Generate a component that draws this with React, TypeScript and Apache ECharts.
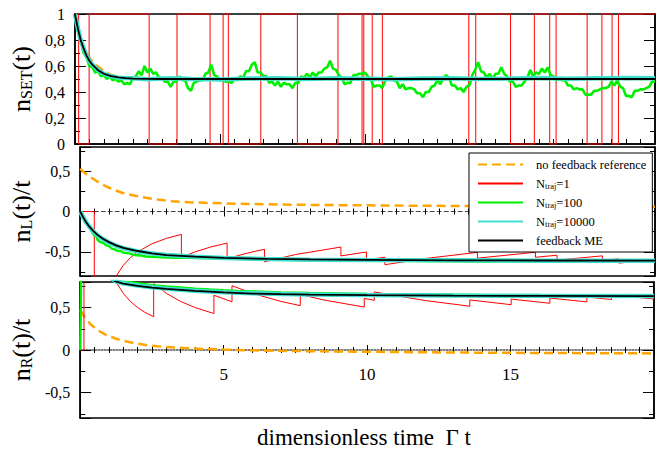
import React, { useEffect, useRef } from 'react';
import * as echarts from 'echarts';

const SERIF = 'Liberation Serif';

// ---------- axis ----------
const T_MIN = 0;
const T_MAX = 20;
const X_TICK_LABELS = ['5', '10', '15'];
const X_TITLE = 'dimensionless time  Γ t';

// ---------- panel 1: n_SET(t) ----------
// single trajectory: switching times
const SET_DROP_T = [0.13, 2.56, 4.66, 5.29, 7.67, 9.9, 10.25, 13.58, 15.02, 16.37, 17.66, 18.52];
const SET_RISE_T = [0.49, 3.52, 5.11, 6.41, 9.07, 9.96, 10.6, 13.82, 15.84, 16.59, 18.17, 18.74];

const SET_ME = [[0, 1], [0.1, 0.89], [0.2, 0.8], [0.3, 0.735], [0.4, 0.68], [0.5, 0.64], [0.6, 0.61], [0.8, 0.568], [1.0, 0.54], [1.25, 0.522], [1.5, 0.512], [1.75, 0.506], [2.0, 0.503], [2.5, 0.501], [3, 0.5], [20, 0.5]];
const SET_NOFB = [[0, 1], [0.1, 0.9], [0.2, 0.815], [0.3, 0.752], [0.4, 0.702], [0.5, 0.665], [0.6, 0.635], [0.75, 0.605], [1.0, 0.56], [1.25, 0.532], [1.5, 0.515], [2, 0.505], [2.5, 0.501], [3, 0.5], [20, 0.5]];
const SET_CYAN = [[0, 1], [0.1, 0.89], [0.2, 0.8], [0.3, 0.735], [0.4, 0.68], [0.5, 0.64], [0.6, 0.61], [0.8, 0.568], [1.0, 0.54], [1.25, 0.522], [1.5, 0.51], [2, 0.505], [2.5, 0.498], [3, 0.503], [3.5, 0.505], [4, 0.5], [5, 0.497], [6, 0.503], [7, 0.505], [8, 0.5], [9, 0.506], [10, 0.502], [11, 0.498], [12, 0.503], [13, 0.505], [14, 0.5], [15, 0.503], [16, 0.507], [17, 0.502], [18, 0.505], [19, 0.508], [20, 0.506]];
const SET_GREEN_DT = 0.1;
const SET_GREEN = [
  1.0, 0.87, 0.8, 0.7, 0.67, 0.6, 0.59, 0.55, 0.56, 0.52,
  0.53, 0.5, 0.52, 0.49, 0.5, 0.48, 0.49, 0.46, 0.47, 0.46,
  0.51, 0.52, 0.56, 0.53, 0.6, 0.55, 0.58, 0.54, 0.55, 0.51,
  0.51, 0.48, 0.48, 0.44, 0.48, 0.48, 0.52, 0.49, 0.49, 0.43,
  0.41, 0.47, 0.48, 0.49, 0.49, 0.54, 0.55, 0.61, 0.53, 0.52,
  0.49, 0.49, 0.48, 0.48, 0.47, 0.5, 0.49, 0.52, 0.51, 0.56,
  0.56, 0.61, 0.63, 0.55, 0.55, 0.52, 0.52, 0.47, 0.48, 0.45,
  0.48, 0.44, 0.47, 0.46, 0.46, 0.43, 0.47, 0.47, 0.52, 0.51,
  0.54, 0.51, 0.55, 0.52, 0.55, 0.55, 0.58, 0.59, 0.64, 0.58,
  0.57, 0.53, 0.51, 0.46, 0.47, 0.47, 0.53, 0.53, 0.54, 0.54,
  0.55, 0.52, 0.5, 0.44, 0.45, 0.45, 0.43, 0.49, 0.51, 0.52,
  0.49, 0.48, 0.43, 0.46, 0.42, 0.43, 0.43, 0.42, 0.39, 0.39,
  0.36, 0.4, 0.4, 0.44, 0.45, 0.49, 0.46, 0.51, 0.53, 0.51,
  0.45, 0.45, 0.42, 0.43, 0.4, 0.44, 0.45, 0.53, 0.57, 0.63,
  0.56, 0.55, 0.51, 0.54, 0.5, 0.54, 0.54, 0.59, 0.54, 0.52,
  0.48, 0.48, 0.44, 0.45, 0.45, 0.48, 0.51, 0.57, 0.52, 0.55,
  0.54, 0.58, 0.55, 0.59, 0.53, 0.52, 0.49, 0.5, 0.49, 0.49,
  0.45, 0.45, 0.42, 0.43, 0.42, 0.42, 0.38, 0.38, 0.38, 0.41,
  0.41, 0.42, 0.43, 0.43, 0.44, 0.48, 0.45, 0.49, 0.44, 0.43,
  0.37, 0.37, 0.36, 0.41, 0.41, 0.42, 0.42, 0.43, 0.44, 0.48,
  0.48,
];

// ---------- panel 2: n_L(t)/t ----------
const L_NOFB = [[0, 0.53], [0.15, 0.48], [0.34, 0.43], [0.6, 0.37], [0.91, 0.31], [1.2, 0.265], [1.48, 0.23], [1.9, 0.195], [2.29, 0.17], [2.7, 0.148], [3.2, 0.128], [3.8, 0.115], [4.35, 0.107], [5, 0.1], [6, 0.092], [7, 0.086], [8.5, 0.08], [10, 0.076], [12, 0.071], [13.6, 0.068], [16, 0.064], [18, 0.062], [20, 0.06]];
const L_RED = [
  [0, 0], [0.49, 0], [0.49, -2.04], [0.75, -1.333], [1.0, -1.0], [1.25, -0.8], [1.5, -0.667], [1.75, -0.571], [2.0, -0.5], [2.5, -0.4], [3.0, -0.333], [3.52, -0.284],
  [3.52, -0.568], [4.0, -0.5], [4.5, -0.444], [5.11, -0.391],
  [5.11, -0.587], [5.7, -0.526], [6.41, -0.468],
  [6.41, -0.624], [7.5, -0.533], [9.07, -0.441],
  [9.07, -0.551], [9.96, -0.502],
  [9.96, -0.602], [10.6, -0.566],
  [10.6, -0.66], [12.0, -0.583], [13.82, -0.507],
  [13.82, -0.579], [15.84, -0.505],
  [15.84, -0.568], [16.59, -0.542],
  [16.59, -0.603], [18.17, -0.55],
  [18.17, -0.605], [18.74, -0.587],
  [18.74, -0.64], [20, -0.6],
];
const L_ME = [[0, 0], [0.1, -0.07], [0.2, -0.13], [0.3, -0.18], [0.45, -0.24], [0.6, -0.29], [0.8, -0.34], [1.0, -0.38], [1.25, -0.42], [1.5, -0.45], [2.0, -0.49], [2.5, -0.52], [3.0, -0.54], [4.0, -0.56], [5.0, -0.575], [6.5, -0.588], [8, -0.595], [10, -0.6], [13, -0.605], [16, -0.608], [20, -0.61]];
const L_CYAN = [[0, 0], [0.1, -0.07], [0.2, -0.13], [0.3, -0.18], [0.45, -0.245], [0.6, -0.295], [0.8, -0.345], [1.0, -0.385], [1.25, -0.425], [1.5, -0.455], [2.0, -0.495], [2.5, -0.522], [3.0, -0.54], [4.0, -0.562], [5.0, -0.577], [6.5, -0.59], [8, -0.597], [10, -0.602], [13, -0.606], [16, -0.61], [20, -0.612]];
const L_GREEN = [[0, 0], [0.05, -0.02], [0.1, -0.06], [0.15, -0.09], [0.2, -0.11], [0.25, -0.16], [0.3, -0.19], [0.35, -0.2], [0.4, -0.25], [0.5, -0.3], [0.55, -0.3], [0.6, -0.35], [0.7, -0.38], [0.8, -0.39], [0.9, -0.42], [1.0, -0.43], [1.1, -0.46], [1.2, -0.47], [1.3, -0.49], [1.4, -0.49], [1.5, -0.51], [1.7, -0.52], [1.9, -0.54], [2.1, -0.545], [2.3, -0.56], [2.5, -0.562], [2.7, -0.565], [3.0, -0.572], [3.3, -0.575], [3.6, -0.57], [4.0, -0.578], [4.5, -0.58], [5, -0.585], [5.5, -0.588], [6, -0.59], [7, -0.594], [8, -0.598], [9, -0.6], [10, -0.603], [11, -0.608], [12, -0.615], [13, -0.618], [14, -0.62], [15, -0.618], [16, -0.614], [17, -0.612], [18, -0.613], [19, -0.61], [20, -0.611]];

// ---------- panel 3: n_R(t)/t ----------
const R_NOFB = [[0, 0.47], [0.15, 0.39], [0.34, 0.31], [0.6, 0.235], [0.91, 0.176], [1.2, 0.138], [1.48, 0.11], [1.9, 0.08], [2.29, 0.059], [2.7, 0.044], [3.2, 0.031], [3.8, 0.02], [4.35, 0.012], [5, 0.005], [6, -0.004], [7, -0.01], [8.5, -0.016], [10, -0.021], [12, -0.027], [14, -0.032], [16, -0.035], [18, -0.038], [20, -0.04]];
const R_RED = [
  [0, 0], [0.13, 0], [0.13, 7.7], [0.5, 2.0], [1.0, 1.0], [1.25, 0.8], [1.5, 0.667], [1.75, 0.571], [2.0, 0.5], [2.25, 0.444], [2.56, 0.391],
  [2.56, 0.781], [3.0, 0.667], [3.5, 0.571], [4.0, 0.5], [4.66, 0.429],
  [4.66, 0.644], [5.29, 0.567],
  [5.29, 0.756], [6.0, 0.667], [7.0, 0.571], [7.67, 0.522],
  [7.67, 0.652], [8.5, 0.588], [9.9, 0.505],
  [9.9, 0.606], [10.25, 0.585],
  [10.25, 0.683], [12.0, 0.583], [13.58, 0.515],
  [13.58, 0.589], [15.02, 0.533],
  [15.02, 0.599], [16.37, 0.55],
  [16.37, 0.611], [17.66, 0.566],
  [17.66, 0.623], [18.52, 0.594],
  [18.52, 0.648], [20, 0.6],
];
const R_ME = [[0.7, 1.0], [1.0, 0.86], [1.2, 0.81], [1.5, 0.78], [2.0, 0.755], [2.5, 0.735], [3.0, 0.72], [3.5, 0.708], [4.0, 0.695], [4.5, 0.686], [5.0, 0.677], [6.0, 0.664], [7.0, 0.657], [8, 0.652], [10, 0.646], [13, 0.64], [16, 0.636], [20, 0.633]];
const R_CYAN = [[0.7, 1.0], [1.0, 0.865], [1.2, 0.815], [1.5, 0.785], [2.0, 0.758], [2.5, 0.738], [3.0, 0.722], [3.5, 0.71], [4.0, 0.698], [4.5, 0.688], [5.0, 0.679], [6.0, 0.667], [7.0, 0.659], [8, 0.654], [10, 0.647], [13, 0.641], [16, 0.637], [20, 0.634]];
const R_GREEN = [[0, 0], [0.02, 0.5], [0.04, 1.2], [0.5, 1.3], [1.0, 0.9], [1.2, 0.84], [1.5, 0.81], [2, 0.785], [2.5, 0.762], [3, 0.748], [3.5, 0.735], [4, 0.722], [4.5, 0.712], [5, 0.703], [5.5, 0.695], [6, 0.689], [7, 0.678], [8, 0.67], [9, 0.665], [10, 0.66], [11, 0.656], [12, 0.653], [13, 0.65], [14, 0.647], [15, 0.645], [16, 0.643], [17, 0.64], [18, 0.639], [19, 0.638], [20, 0.637]];

// ---------- legend ----------
const NAMES = ['nofb', 'n1', 'n100', 'n10000', 'me'];
const LEGEND_TEXT: Record<string, string> = {
  nofb: '{a|no feedback reference}',
  n1: '{a|N}{s|traj}{a|=1}',
  n100: '{a|N}{s|traj}{a|=100}',
  n10000: '{a|N}{s|traj}{a|=10000}',
  me: '{a|feedback ME}',
};

const STYLES: Record<string, any> = {
  nofb: { color: '#ffa500', width: 2.5, type: [9, 5] },
  n1: { color: '#ff0000', width: 1 },
  n100: { color: '#00f000', width: 2.4 },
  n10000: { color: '#40e0d0', width: 4.5 },
  me: { color: '#000000', width: 1.8 },
};

function setStep(): number[][] {
  const ev = [...SET_DROP_T.map((t) => [t, 0]), ...SET_RISE_T.map((t) => [t, 1])].sort((a, b) => a[0] - b[0]);
  let cur = 1;
  const pts: number[][] = [[T_MIN, 1]];
  for (const [t, v] of ev) {
    pts.push([t, cur]);
    pts.push([t, v]);
    cur = v;
  }
  pts.push([T_MAX, cur]);
  return pts;
}

const fmt = (v: number) => String(Math.round(v * 100) / 100).replace('.', ',');

export default function App() {
  const ref = useRef<HTMLDivElement>(null);
  useEffect(() => {
    if (!ref.current) return;
    const chart = echarts.init(ref.current, undefined, { renderer: 'svg' });

    const grids = [
      { left: 73, top: 14, width: 582, height: 130 },
      { left: 73, top: 147, width: 582, height: 129 },
      { left: 73, top: 282, width: 582, height: 136 },
    ].map((g) => ({ ...g, show: true, borderColor: '#000', borderWidth: 1.5, backgroundColor: 'transparent', containLabel: false }));

    const baseX = {
      type: 'value', min: T_MIN, max: T_MAX, interval: 5,
      splitLine: { show: false },
      axisLabel: { show: false },
    };
    const xAxis: any[] = [
      { ...baseX, gridIndex: 0, position: 'bottom',
        axisLine: { onZero: false, lineStyle: { color: '#000', width: 1.5 } },
        axisTick: { inside: true, length: 10, lineStyle: { color: '#000' } },
        minorTick: { show: true, splitNumber: 10, length: 5, lineStyle: { color: '#000' } } },
      { ...baseX, gridIndex: 1, position: 'bottom',
        axisLine: { onZero: true, lineStyle: { color: '#444', width: 1, type: [4, 3] } },
        axisTick: { inside: false, length: 5, lineStyle: { color: '#000' } },
        minorTick: { show: true, splitNumber: 10, length: 3, lineStyle: { color: '#000' } } },
      { ...baseX, gridIndex: 1, position: 'top',
        axisLine: { onZero: true, lineStyle: { color: '#000', opacity: 0 } },
        axisTick: { inside: false, length: 5, lineStyle: { color: '#000' } },
        minorTick: { show: true, splitNumber: 10, length: 3, lineStyle: { color: '#000' } } },
      { ...baseX, gridIndex: 2, position: 'bottom',
        axisLine: { onZero: true, lineStyle: { color: '#555', width: 1.5, type: [1.5, 1.5] } },
        axisTick: { inside: false, length: 5, lineStyle: { color: '#000' } },
        minorTick: { show: true, splitNumber: 10, length: 3, lineStyle: { color: '#000' } },
        axisLabel: { show: true, margin: -52, fontFamily: SERIF, fontSize: 17, color: '#000',
          formatter: (v: number) => (X_TICK_LABELS.includes(String(v)) ? String(v) : '') } },
      { ...baseX, gridIndex: 2, position: 'top',
        axisLine: { onZero: true, lineStyle: { color: '#000', opacity: 0 } },
        axisTick: { inside: false, length: 5, lineStyle: { color: '#000' } },
        minorTick: { show: true, splitNumber: 10, length: 3, lineStyle: { color: '#000' } } },
    ];

    const mainRich = (sub: number) => ({
      m: { fontFamily: SERIF, fontSize: 26, color: '#000' },
      s: { fontFamily: SERIF, fontSize: sub, color: '#000', verticalAlign: 'bottom', lineHeight: 8 },
    });

    const yLeft = (grid: number, extra: any) => ({
      type: 'value', gridIndex: grid, position: 'left',
      splitLine: { show: false },
      axisLine: { onZero: false, lineStyle: { color: '#000', width: 1.5 } },
      axisTick: { inside: true, length: 11, lineStyle: { color: '#000' } },
      minorTick: { show: true, splitNumber: 2, length: 5, lineStyle: { color: '#000' } },
      axisLabel: { fontFamily: SERIF, fontSize: 16, color: '#000', margin: 10, formatter: fmt },
      nameLocation: 'middle', nameRotate: 90, nameGap: 32,
      ...extra,
    });
    const yRight = (grid: number, extra: any) => ({
      type: 'value', gridIndex: grid, position: 'right',
      splitLine: { show: false },
      axisLine: { onZero: false, lineStyle: { color: '#000', width: 1.5 } },
      axisTick: { inside: true, length: 11, lineStyle: { color: '#000' } },
      minorTick: { show: true, splitNumber: 2, length: 5, lineStyle: { color: '#000' } },
      axisLabel: { show: false },
      ...extra,
    });
    const p1 = { min: 0, max: 1, interval: 0.2 };
    const p23 = { min: -0.8, max: 0.8, splitNumber: 3 };
    const lbl23 = { fontFamily: SERIF, fontSize: 16, color: '#000', margin: 10, showMinLabel: false, showMaxLabel: false,
      formatter: (v: number) => (Math.abs(v) > 0.7 ? '' : fmt(v)) };
    const yAxis: any[] = [
      yLeft(0, { ...p1, name: '{m|n}{s|SET}{m|(t)}', nameTextStyle: { fontFamily: SERIF, rich: mainRich(16) } }),
      yRight(0, p1),
      yLeft(1, { ...p23, name: '{m|n}{s|L}{m|(t)/t}', nameTextStyle: { fontFamily: SERIF, rich: mainRich(16) }, axisLabel: lbl23 }),
      yRight(1, p23),
      yLeft(2, { ...p23, name: '{m|n}{s|R}{m|(t)/t}', nameTextStyle: { fontFamily: SERIF, rich: mainRich(16) }, axisLabel: lbl23 }),
      yRight(2, p23),
    ];

    const mk = (name: string, data: number[][], xi: number, yi: number, z: number, clip = true, width?: number) => ({
      type: 'line', name, data, xAxisIndex: xi, yAxisIndex: yi,
      showSymbol: false, symbol: 'none', clip, silent: true, z,
      lineStyle: width ? { ...STYLES[name], width } : STYLES[name], itemStyle: { color: STYLES[name].color },
    });

    const green1 = SET_GREEN.map((v, i) => [Math.round(i * SET_GREEN_DT * 10) / 10, v]);

    const series = [
      mk('nofb', SET_NOFB, 0, 0, 2),
      mk('n1', setStep(), 0, 0, 3, false),
      mk('n100', green1, 0, 0, 4, true, 2.6),
      mk('n10000', SET_CYAN, 0, 0, 5),
      mk('me', SET_ME, 0, 0, 6),

      mk('nofb', L_NOFB, 1, 2, 2),
      mk('n1', L_RED, 1, 2, 3),
      mk('n100', L_GREEN, 1, 2, 4),
      mk('n10000', L_CYAN, 1, 2, 5),
      mk('me', L_ME, 1, 2, 6),

      mk('nofb', R_NOFB, 3, 4, 2),
      mk('n1', R_RED, 3, 4, 3),
      mk('n100', R_GREEN, 3, 4, 4),
      mk('n10000', R_CYAN, 3, 4, 5),
      mk('me', R_ME, 3, 4, 6),
    ];

    chart.setOption({
      animation: false,
      textStyle: { fontFamily: SERIF },
      grid: grids,
      xAxis,
      yAxis,
      series,
      legend: {
        data: NAMES,
        left: 469, top: 153, orient: 'vertical',
        backgroundColor: '#fff', borderColor: '#000', borderWidth: 1,
        padding: [5, 6, 5, 8],
        itemWidth: 45, itemHeight: 10, itemGap: 6,
        selectedMode: false,
        itemStyle: { opacity: 0 },
        formatter: (n: string) => LEGEND_TEXT[n],
        textStyle: {
          fontFamily: SERIF, fontSize: 12, color: '#000', padding: [0, 0, 0, 8],
          rich: {
            a: { fontFamily: SERIF, fontSize: 12.5, color: '#000' },
            s: { fontFamily: SERIF, fontSize: 8.5, color: '#000', verticalAlign: 'bottom', lineHeight: 4 },
          },
        },
        z: 10,
      },
      graphic: [
        {
          type: 'text', x: 364, y: 437,
          style: { text: X_TITLE, fontFamily: SERIF, fontSize: 23, fill: '#000', align: 'center', verticalAlign: 'middle' },
        },
      ],
    });
    return () => chart.dispose();
  }, []);
  return <div ref={ref} style={{ position: 'fixed', left: 0, top: 0, width: 657, height: 450, background: '#fff' }} />;
}
